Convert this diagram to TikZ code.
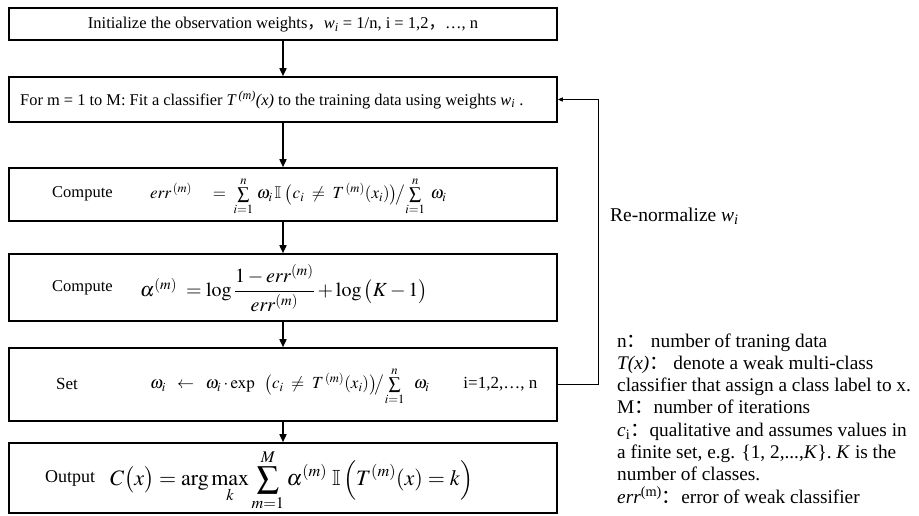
\documentclass[tikz,border=0pt]{standalone}
\usepackage{amsmath,amssymb}
\usepackage{mathptmx}
\usepackage{fontspec}
\setmainfont{Liberation Serif}
\newfontfamily\cjk{Noto Sans CJK SC}
\usetikzlibrary{arrows.meta}
\tikzset{
  box/.style={draw, line width=1.6pt, minimum width=548pt, inner sep=0pt},
  flow/.style={-{Triangle[length=8pt,width=7pt]}, line width=1.6pt},
  fb/.style={-{Triangle[length=5pt,width=4pt]}, line width=1.1pt},
  lbl/.style={inner sep=0pt, anchor=west},
  note/.style={inner sep=0pt, anchor=base west, font=\fontsize{19.3}{22}\selectfont},
}
\begin{document}
\begin{tikzpicture}[x=1pt,y=-1pt]
\useasboundingbox (0,0) rectangle (919,515);
% boxes
\node[box, minimum height=32pt] (b1) at (283,24) {};
\node[box, minimum height=45pt] (b2) at (283,99.5) {};
\node[box, minimum height=53pt] (b3) at (283,194.5) {};
\node[box, minimum height=67pt] (b4) at (283,287.5) {};
\node[box, minimum height=73pt] (b5) at (283,384.5) {};
\node[box, minimum height=70pt] (b6) at (283,478) {};
% box texts
\node[inner sep=0pt, font=\fontsize{16.5}{19}\selectfont] (t1) at (283,25)
  {Initialize the observation weights{\cjk ，}\textit{w\textsubscript{i}} = 1/n, i = 1,2{\cjk ，}…, n};
\node[lbl, font=\fontsize{16.4}{19}\selectfont] (t2) at (20,100)
  {For m = 1 to M: Fit a classifier \textit{T\,\textsuperscript{(m)}(x)} to the training data using weights \textit{w\textsubscript{i}} .};
\node[lbl, font=\fontsize{16.5}{19}\selectfont] (c3) at (52,194) {Compute};
\node[lbl, font=\fontsize{17}{20}\selectfont] (f3) at (150,196)
  {$\mathit{err}^{\,(m)} \quad=\; \sum\limits_{i=1}^{n}\,\omega_i\,\mathbb{I}\;\big(c_i \;\neq\; T^{\,(m)}(x_i)\big)\!\big/\!\sum\limits_{i=1}^{n}\;\omega_i$};
\node[lbl, font=\fontsize{16.5}{19}\selectfont] (c4) at (52,288) {Compute};
\node[lbl, font=\fontsize{20}{24}\selectfont] (f4) at (140,288)
  {$\alpha^{(m)} \;=\log\dfrac{1-\mathit{err}^{(m)}}{\mathit{err}^{(m)}} + \log\big(K-1\big)$};
\node[lbl, font=\fontsize{17}{20}\selectfont] (c5) at (56,384) {Set};
\node[lbl, font=\fontsize{17}{20}\selectfont] (f5) at (150,386)
  {$\omega_i \;\;\leftarrow\;\; \omega_i\cdot\exp\;\;\big(c_i \;\neq\; T^{\,(m)}(x_i)\big)\!\big/\!\sum\limits_{i=1}^{n}\;\;\omega_i$\qquad i=1,2,…, n};
\node[lbl, font=\fontsize{18}{21}\selectfont] (c6) at (45,478) {Output};
\node[lbl, font=\fontsize{22}{26}\selectfont] (f6) at (110,480)
  {$\displaystyle C\big(x\big) = \arg\max_k \sum_{m=1}^{M}\alpha^{(m)}\;\mathbb{I}\,\Big(T^{(m)}(x) = k\Big)$};
% connectors
\draw[flow] (b1) -- (b2);
\draw[flow] (b2) -- (b3);
\draw[flow] (b3) -- (b4);
\draw[flow] (b4) -- (b5);
\draw[flow] (b5) -- (b6);
\draw[fb] (b5.east) -- ++(41,0) |- (b2.east);
% side labels
\node[lbl, font=\fontsize{19.5}{22}\selectfont] (rn) at (610,216)
  {Re-normalize \textit{w\textsubscript{i}}};
\node[note] (n1) at (617,347.0) {n{\cjk ：}\ number of traning data};
\node[note] (n2) at (617,369.3) {\textit{T(x)}{\cjk ：}\ denote a weak multi-class};
\node[note] (n3) at (617,391.6) {classifier that assign a class label to x.};
\node[note] (n4) at (617,413.9) {M{\cjk ：}number of iterations};
\node[note] (n5) at (617,436.2) {\textit{c}\textsubscript{i}{\cjk ：}qualitative and assumes values in};
\node[note] (n6) at (617,458.5) {a finite set, e.g. \{1, 2,...,\textit{K}\}. \textit{K} is the};
\node[note] (n7) at (617,480.8) {number of classes.};
\node[note] (n8) at (617,503.1) {\textit{err}\textsuperscript{(m)}{\cjk ：}error of weak classifier};
\end{tikzpicture}
\end{document}
